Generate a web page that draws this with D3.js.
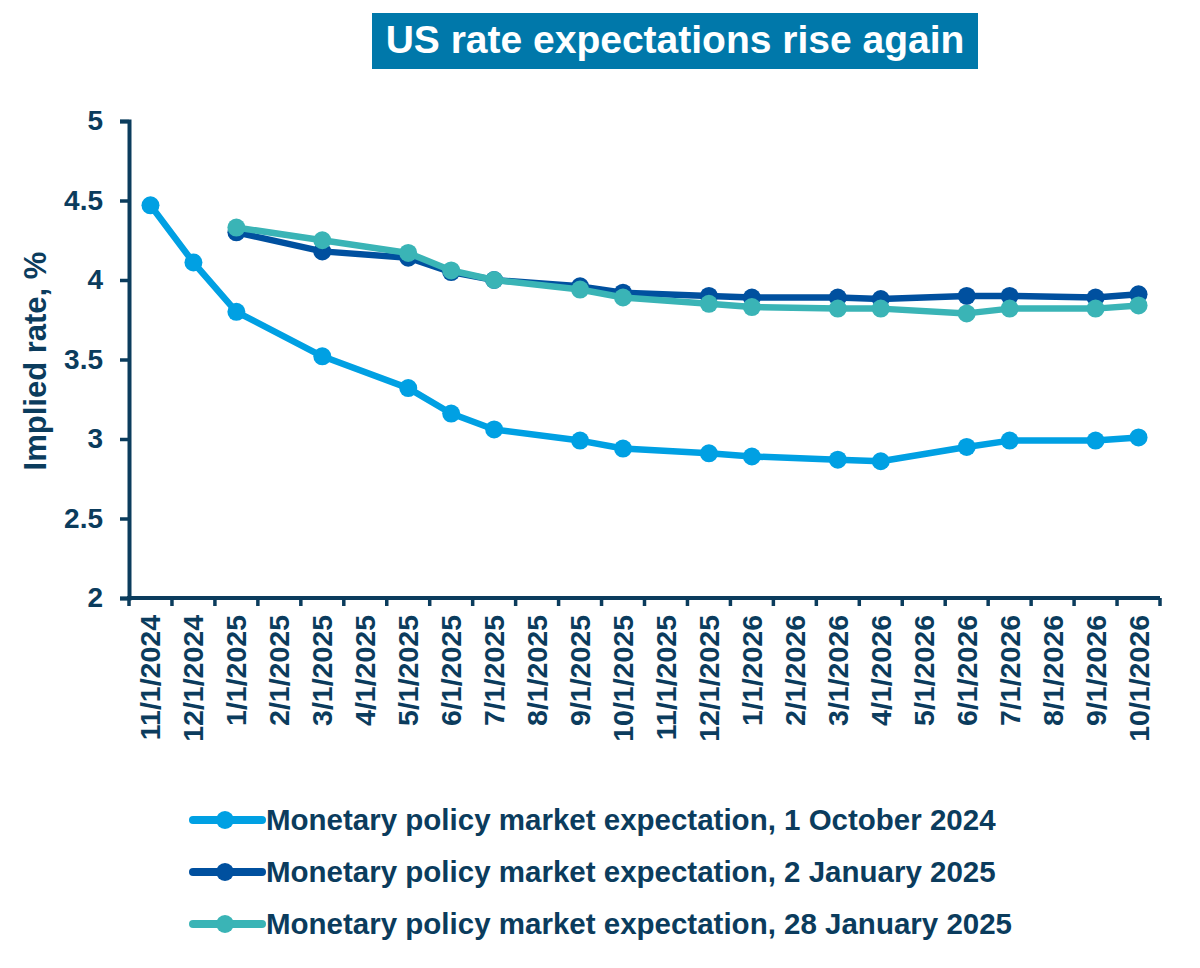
<!DOCTYPE html>
<html>
<head>
<meta charset="utf-8">
<style>
  body { margin: 0; background: #fff; }
  .chart text { fill: #0b3c5d; }
</style>
</head>
<body>
<div class="chart"></div>
<script src="https://d3js.org/d3.v7.min.js"></script>
<script>
  // monthly categories on the x axis
  const months = ['11/1/2024','12/1/2024','1/1/2025','2/1/2025','3/1/2025','4/1/2025','5/1/2025',
    '6/1/2025','7/1/2025','8/1/2025','9/1/2025','10/1/2025','11/1/2025','12/1/2025','1/1/2026',
    '2/1/2026','3/1/2026','4/1/2026','5/1/2026','6/1/2026','7/1/2026','8/1/2026','9/1/2026','10/1/2026'];

  // null = no observation that month (line joins the neighbours)
  const oct2024 = [4.47, 4.11, 3.80, null, 3.52, null, 3.32, 3.16, 3.06, null, 2.99, 2.94, null, 2.91,
    2.89, null, 2.87, 2.86, null, 2.95, 2.99, null, 2.99, 3.01];
  const jan2025 = [null, null, 4.30, null, 4.18, null, 4.14, 4.05, 4.00, null, 3.96, 3.92, null, 3.90,
    3.89, null, 3.89, 3.88, null, 3.90, 3.90, null, 3.89, 3.91];
  const jan28_2025 = [null, null, 4.33, null, 4.25, null, 4.17, 4.06, 4.00, null, 3.94, 3.89, null, 3.85,
    3.83, null, 3.82, 3.82, null, 3.79, 3.82, null, 3.82, 3.84];

  const seriesNames = ['Monetary policy market expectation, 1 October 2024',
    'Monetary policy market expectation, 2 January 2025',
    'Monetary policy market expectation, 28 January 2025'];
  const seriesColors = ['#00a0e3', '#00509f', '#3ab4b6'];
  const yTicks = [2, 2.5, 3, 3.5, 4, 4.5, 5];

  const width = 1200, height = 968;
  const plotLeft = 129, plotRight = 1160, plotTop = 121, plotBottom = 598;
  const axisColor = '#0b3c5d';
  const font = '"Liberation Sans", Arial, sans-serif';

  const svg = d3.select('.chart').append('svg')
    .attr('width', width)
    .attr('height', height)
    .style('font-family', font)
    .style('font-weight', 'bold');

  // title box
  svg.append('rect')
    .attr('x', 372).attr('y', 13)
    .attr('width', 606).attr('height', 56)
    .attr('fill', '#0078aa');
  svg.append('text')
    .attr('x', 675).attr('y', 53)
    .attr('text-anchor', 'middle')
    .style('fill', '#fff')
    .style('font-size', '39px')
    .text('US rate expectations rise again');

  const xScale = d3.scaleBand().domain(months).range([plotLeft, plotRight]);
  const yScale = d3.scaleLinear().domain([2, 5]).range([plotBottom, plotTop]);

  // y axis
  const yAxis = d3.axisLeft(yScale).tickValues(yTicks).tickSize(9).tickPadding(17)
    .tickFormat(d => d);
  const yG = svg.append('g')
    .attr('transform', `translate(${plotLeft},0)`)
    .call(yAxis);
  yG.select('.domain').attr('stroke', axisColor).attr('stroke-width', 4);
  yG.selectAll('.tick line').attr('stroke', axisColor).attr('stroke-width', 3.5);
  yG.selectAll('.tick text')
    .style('font-family', font)
    .style('font-weight', 'bold')
    .style('font-size', '28px')
    .style('fill', axisColor);

  svg.append('text')
    .attr('transform', 'translate(46,361) rotate(-90)')
    .attr('text-anchor', 'middle')
    .style('font-size', '31px')
    .text('Implied rate, %');

  // x axis: ticks between months, labels in the middle
  const xG = svg.append('g').attr('transform', `translate(0,${plotBottom})`);
  xG.append('line')
    .attr('x1', plotLeft - 2).attr('x2', plotRight)
    .attr('stroke', axisColor).attr('stroke-width', 4);
  const bounds = months.map(m => xScale(m)).concat([plotRight]);
  xG.selectAll('.xtick')
    .data(bounds)
    .join('line')
    .attr('class', 'xtick')
    .attr('x1', d => d).attr('x2', d => d)
    .attr('y1', 0).attr('y2', 8)
    .attr('stroke', axisColor).attr('stroke-width', 3.5);
  xG.selectAll('.xlabel')
    .data(months)
    .join('text')
    .attr('class', 'xlabel')
    .attr('transform', d => `translate(${xScale(d) + xScale.bandwidth() / 2 + 10},17) rotate(-90)`)
    .attr('text-anchor', 'end')
    .style('font-size', '28.5px')
    .text(d => d);

  // series
  const allSeries = [oct2024, jan2025, jan28_2025];
  const xc = i => xScale(months[i]) + xScale.bandwidth() / 2;
  const line = d3.line().x(d => xc(d.i)).y(d => yScale(d.v));

  allSeries.forEach((vals, s) => {
    const pts = vals.map((v, i) => ({ i, v })).filter(d => d.v !== null);
    const g = svg.append('g');
    g.append('path')
      .attr('d', line(pts))
      .attr('fill', 'none')
      .attr('stroke', seriesColors[s])
      .attr('stroke-width', 6.5)
      .attr('stroke-linejoin', 'round');
    g.selectAll('circle')
      .data(pts)
      .join('circle')
      .attr('cx', d => xc(d.i))
      .attr('cy', d => yScale(d.v))
      .attr('r', 9)
      .attr('fill', seriesColors[s]);
  });

  // legend
  const legY = [820, 872, 924];
  seriesNames.forEach((name, s) => {
    const g = svg.append('g').attr('transform', `translate(0,${legY[s]})`);
    g.append('line')
      .attr('x1', 193).attr('x2', 262)
      .attr('stroke', seriesColors[s]).attr('stroke-width', 8)
      .attr('stroke-linecap', 'round');
    g.append('circle')
      .attr('cx', 225).attr('r', 9)
      .attr('fill', seriesColors[s]);
    g.append('text')
      .attr('x', 266).attr('y', 10)
      .style('font-size', '29.5px')
      .text(name);
  });
</script>
</body>
</html>
